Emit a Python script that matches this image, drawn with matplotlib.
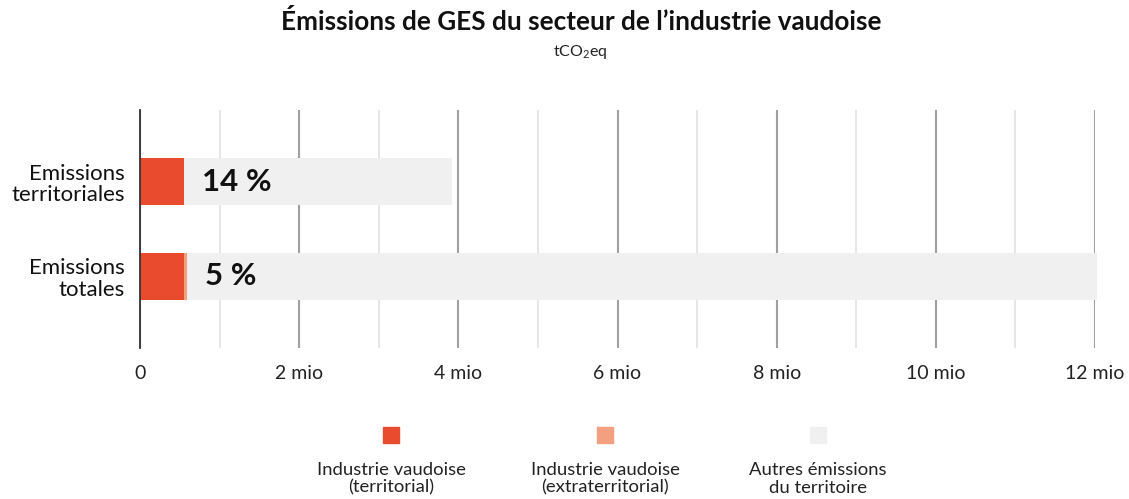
import matplotlib.pyplot as plt
from matplotlib.patches import Rectangle

plt.rcParams['font.family'] = ['Lato', 'DejaVu Sans']
plt.rcParams['mathtext.fontset'] = 'custom'
plt.rcParams['mathtext.rm'] = 'Lato'

# data (mio tCO2eq)
categories = ["Emissions\nterritoriales", "Emissions\ntotales"]
industrie_terr = [0.55, 0.55]
industrie_extra = [0.0, 0.04]
autres = [3.37, 11.43]

series_names = ["Industrie vaudoise\n(territorial)",
                "Industrie vaudoise\n(extraterritorial)",
                "Autres émissions\ndu territoire"]
colors = ["#E84B2E", "#F2A07F", "#F0F0F0"]
xticks = [0, 2, 4, 6, 8, 10, 12]
xticklabels = ["0", "2 mio", "4 mio", "6 mio", "8 mio", "10 mio", "12 mio"]

fig = plt.figure(figsize=(11.29, 4.99), dpi=100)
ax = fig.add_axes([140 / 1129, 1 - 348 / 499, (1095 - 140) / 1129, 238 / 499])

ypos = [1, 0]
h = 0.495
left1 = industrie_terr
left2 = [a + b for a, b in zip(industrie_terr, industrie_extra)]
ax.barh(ypos, industrie_terr, height=h, color=colors[0], zorder=3, clip_on=False)
ax.barh(ypos, industrie_extra, left=left1, height=h, color=colors[1], zorder=3, clip_on=False)
ax.barh(ypos, autres, left=left2, height=h, color=colors[2], zorder=3, clip_on=False)

# percentage labels
for y, t, e, o in zip(ypos, industrie_terr, industrie_extra, autres):
    pct = (t + e) / (t + e + o) * 100
    ax.annotate(f"{pct:.0f} %", xy=(t + e, y), xytext=(13, 0), textcoords="offset points",
                va="center", ha="left", fontsize=22.5, fontweight="bold", color="#111111", zorder=4)

ax.set_xlim(0, 12)
ax.set_ylim(-0.753, 1.753)
ax.set_xticks(xticks)
ax.set_xticklabels(xticklabels, fontsize=14, color="#222222")
ax.set_xticks([1, 3, 5, 7, 9, 11], minor=True)
ax.set_yticks(ypos)
ax.set_yticklabels(categories, fontsize=16, color="#111111", linespacing=1.1)
for lab in ax.get_yticklabels():
    lab.set_multialignment("right")
ax.tick_params(axis="both", which="both", length=0)
ax.tick_params(axis="x", pad=12)
ax.tick_params(axis="y", pad=11)

ax.grid(axis="x", which="major", color="#A0A0A0", linewidth=1.5, zorder=1)
ax.grid(axis="x", which="minor", color="#E2E2E2", linewidth=1.2, zorder=1)
for s in ["top", "right", "bottom"]:
    ax.spines[s].set_visible(False)
ax.spines["left"].set_color("#333333")
ax.spines["left"].set_linewidth(1.3)
ax.spines["left"].set_zorder(5)

fig.text(581 / 1129, 1 - 22 / 499, "Émissions de GES du secteur de l’industrie vaudoise",
         ha="center", va="center", fontsize=18.8, fontweight="bold", color="#111111")
fig.text(580 / 1129, 1 - 52 / 499, r"tCO$_\mathrm{2}$eq", ha="center", va="center",
         fontsize=11.5, color="#222222")

# legend: squares above labels
leg_x = [391, 605, 818]
for x, name, c in zip(leg_x, series_names, colors):
    fig.patches.append(Rectangle(((x - 8) / 1129, 1 - 443 / 499), 16 / 1129, 16 / 499,
                                 transform=fig.transFigure, color=c))
    fig.text(x / 1129, 1 - 479 / 499, name, ha="center", va="center",
             fontsize=13.3, color="#222222", linespacing=1.1)

fig.savefig("out.png", dpi=100)
